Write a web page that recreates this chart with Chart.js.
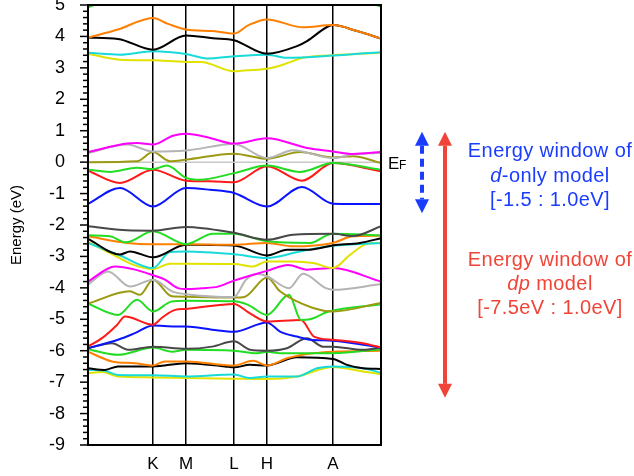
<!DOCTYPE html>
<html>
<head>
<meta charset="utf-8">
<script src="https://cdn.jsdelivr.net/npm/chart.js@4.4.0/dist/chart.umd.min.js"></script>
<style>
  body { margin: 0; background: #fff; }
  canvas { display: block; }
</style>
</head>
<body>
<canvas id="bandChart" width="634" height="476"></canvas>
<script>
// k-path: Γ at 0, then the labelled points, end of path at kEnd
const kTicks = [65, 98, 146, 179, 245];
const kLabels = ['K', 'M', 'L', 'H', 'A'];
const kEnd = 293;
const eMin = -9, eMax = 5;

// energy windows (eV) marked by the arrows
const dOnlyWindow = [-1.5, 1.0];
const dpWindow = [-7.5, 1.0];

// bands, [k, E(eV)]
const fermi = [[0, 0], [293, 0]];

const topGreen = [[0, 4.92], [10, 5.05], [40, 5.4], [250, 5.4], [283, 5.05], [293, 4.95]];
const topOrange = [[0, 3.96], [30, 4.22], [65, 4.59], [80, 4.40], [98, 4.22], [125, 4.17], [146, 4.09], [160, 4.35], [179, 4.54], [215, 4.29], [245, 4.36], [269, 4.17], [293, 3.93]];
const topBlack = [[0, 3.96], [30, 3.92], [65, 3.58], [98, 4.03], [125, 3.94], [146, 3.88], [179, 3.45], [209, 3.69], [219, 3.85], [239, 4.30], [245, 4.36], [269, 4.17], [293, 3.93]];
const topCyan = [[0, 3.48], [32, 3.42], [65, 3.53], [98, 3.44], [119, 3.30], [146, 3.37], [179, 3.42], [199, 3.32], [245, 3.39], [293, 3.50]];
const topYellow = [[0, 3.45], [32, 3.26], [65, 3.24], [98, 3.19], [113, 3.19], [146, 2.89], [158, 2.92], [179, 2.97], [195, 3.10], [215, 3.32], [245, 3.40], [293, 3.48]];

const efMagenta = [[0, 0.32], [39, 0.59], [49, 0.61], [65, 0.56], [85, 0.84], [98, 0.90], [122, 0.77], [146, 0.59], [179, 0.76], [219, 0.45], [245, 0.34], [265, 0.26], [293, 0.32]];
const efGray = [[0, 0.29], [39, 0.56], [65, 0.34], [98, 0.37], [146, 0.58], [179, 0.13], [205, 0.38], [245, 0.13], [265, 0.24], [293, 0.30]];
const efOlive = [[0, 0.00], [49, 0.03], [65, 0.32], [82, 0.03], [98, 0.08], [146, 0.27], [179, 0.11], [212, 0.32], [245, 0.15], [265, 0.19], [293, -0.03]];
const efGreen = [[0, -0.24], [22, -0.31], [49, -0.18], [65, -0.22], [79, -0.11], [98, -0.50], [112, -0.56], [146, -0.35], [179, -0.11], [212, -0.31], [245, -0.03], [293, -0.24]];
const efRed = [[0, -0.27], [32, -0.66], [65, -0.24], [98, -0.59], [122, -0.61], [146, -0.64], [179, -0.13], [214, -0.59], [245, -0.03], [293, -0.29]];
const efBlue = [[0, -1.33], [32, -0.82], [65, -1.41], [98, -0.82], [122, -0.88], [146, -0.98], [179, -1.41], [214, -0.79], [245, -1.32], [293, -1.33]];

const midDarkGray = [[0, -2.04], [39, -2.17], [65, -2.18], [98, -2.06], [146, -2.25], [179, -2.47], [205, -2.31], [245, -2.28], [265, -2.35], [293, -2.04]];
const midGreen = [[0, -2.33], [22, -2.36], [38, -2.55], [65, -2.20], [98, -2.61], [125, -2.28], [146, -2.28], [179, -2.52], [222, -2.57], [240, -2.31], [245, -2.28], [293, -2.33]];
const midOrange = [[0, -2.36], [39, -2.57], [65, -2.61], [98, -2.61], [146, -2.63], [179, -2.57], [205, -2.68], [245, -2.57], [265, -2.36], [293, -2.34]];
const midBlack = [[0, -2.44], [32, -2.94], [42, -2.84], [65, -3.03], [98, -2.63], [146, -2.65], [179, -2.97], [199, -2.79], [219, -2.79], [245, -2.65], [272, -2.57], [293, -2.42]];
const midCyan = [[0, -2.57], [32, -2.97], [65, -3.37], [82, -2.86], [98, -2.84], [146, -2.93], [179, -3.05], [212, -2.84], [245, -2.66], [293, -2.57]];
const midYellow = [[0, -2.54], [25, -2.94], [45, -3.26], [65, -3.40], [82, -3.23], [98, -3.23], [146, -3.24], [165, -3.32], [179, -3.16], [205, -3.16], [225, -3.21], [245, -3.37], [262, -2.95], [279, -2.60], [293, -2.57]];
const midMagenta = [[0, -3.80], [27, -3.32], [47, -3.42], [65, -3.60], [77, -3.74], [90, -4.01], [98, -4.04], [114, -4.01], [130, -3.96], [146, -3.77], [179, -3.46], [200, -3.27], [219, -3.42], [245, -3.37], [293, -3.80]];
const midGray = [[0, -3.90], [20, -3.48], [42, -3.96], [65, -3.74], [84, -4.11], [98, -4.20], [146, -4.29], [158, -3.74], [170, -3.56], [179, -3.63], [201, -4.01], [215, -3.55], [238, -4.01], [245, -4.06], [293, -3.88]];
const midOlive = [[0, -4.50], [42, -4.11], [52, -4.22], [65, -3.74], [84, -4.27], [98, -4.28], [146, -4.31], [157, -4.28], [179, -3.67], [192, -4.11], [225, -4.64], [245, -4.75], [293, -4.48]];
const midGreen2 = [[0, -4.50], [30, -4.86], [49, -4.38], [65, -4.75], [84, -4.43], [98, -4.41], [146, -4.43], [160, -4.54], [179, -4.86], [201, -4.22], [213, -5.02], [222, -5.00], [240, -4.76], [293, -4.52]];
const midRed = [[0, -5.87], [14, -5.60], [29, -5.18], [37, -4.91], [65, -5.17], [74, -4.95], [87, -4.70], [98, -4.67], [146, -4.51], [160, -4.77], [179, -5.07], [213, -5.02], [226, -5.55], [245, -5.65], [275, -5.76], [293, -5.90]];
const midBlue = [[0, -5.92], [30, -5.65], [47, -5.44], [65, -5.20], [87, -5.23], [98, -5.23], [124, -5.33], [146, -5.40], [179, -5.10], [192, -5.39], [209, -5.55], [222, -5.65], [245, -5.68], [293, -5.90]];

const lowDarkGray = [[0, -5.92], [24, -5.76], [40, -5.97], [65, -5.87], [98, -5.94], [124, -5.87], [146, -5.70], [162, -5.97], [179, -6.00], [199, -5.92], [219, -5.60], [235, -5.87], [245, -5.87], [275, -5.97], [293, -5.90]];
const lowGreen = [[0, -5.95], [30, -6.13], [65, -5.90], [84, -6.03], [98, -5.97], [146, -6.00], [169, -6.08], [179, -6.03], [192, -6.08], [245, -6.08], [293, -5.95]];
const lowOrange = [[0, -6.03], [24, -6.34], [47, -6.40], [65, -6.47], [77, -6.34], [98, -6.34], [146, -6.47], [165, -6.32], [179, -6.47], [199, -6.24], [225, -6.08], [245, -6.03], [293, -6.00]];
const lowBlack = [[0, -6.56], [17, -6.61], [30, -6.50], [65, -6.50], [98, -6.40], [137, -6.50], [146, -6.53], [162, -6.45], [179, -6.47], [209, -6.21], [245, -6.26], [259, -6.45], [275, -6.56], [293, -6.58]];
const lowCyan = [[0, -6.61], [17, -6.64], [30, -6.77], [65, -6.78], [98, -6.82], [146, -6.76], [162, -6.87], [179, -6.82], [209, -6.82], [229, -6.56], [245, -6.50], [275, -6.56], [293, -6.70]];
const lowYellow = [[0, -6.71], [14, -6.68], [30, -6.82], [65, -6.85], [98, -6.87], [146, -6.89], [179, -6.90], [209, -6.82], [245, -6.52], [275, -6.66], [293, -6.75]];

// first entry is drawn on top
const bands = [
    [topOrange, '#ff8000'], [topBlack, '#000000'], [topCyan, '#19dada'], [topYellow, '#e2e200'], [topGreen, '#22dd22'],
    [efMagenta, '#ff00ff'], [efGray, '#b4b4b4'], [efOlive, '#9c9a12'], [efGreen, '#22dd22'], [efRed, '#ff1a1a'], [efBlue, '#0a14ff'],
    [midDarkGray, '#484848'], [midGreen, '#22dd22'], [midOrange, '#ff8000'], [midBlack, '#000000'], [midCyan, '#19dada'],
    [midYellow, '#e2e200'], [midMagenta, '#ff00ff'], [midGray, '#b4b4b4'], [midOlive, '#9c9a12'], [midGreen2, '#22dd22'],
    [midRed, '#ff1a1a'], [midBlue, '#0a14ff'],
    [lowDarkGray, '#484848'], [lowGreen, '#22dd22'], [lowOrange, '#ff8000'], [lowBlack, '#000000'], [lowCyan, '#19dada'], [lowYellow, '#e2e200'],
];

const FONT = "'Liberation Sans', Arial, sans-serif";
const BLUE = '#1a3cff';
const RED = '#f04438';

function drawArrow(ctx, x, yTop, yBot, color, dashed) {
    const head = 14, half = 7;
    ctx.save();
    ctx.strokeStyle = color;
    ctx.fillStyle = color;
    ctx.lineWidth = 4;
    if (dashed) ctx.setLineDash([8, 5]);
    ctx.beginPath();
    ctx.moveTo(x, yTop + head);
    ctx.lineTo(x, yBot - head);
    ctx.stroke();
    ctx.setLineDash([]);
    ctx.beginPath();
    ctx.moveTo(x, yTop); ctx.lineTo(x - half, yTop + head); ctx.lineTo(x + half, yTop + head);
    ctx.closePath(); ctx.fill();
    ctx.beginPath();
    ctx.moveTo(x, yBot); ctx.lineTo(x - half, yBot - head); ctx.lineTo(x + half, yBot - head);
    ctx.closePath(); ctx.fill();
    ctx.restore();
}

// line of text with one italic piece, centred on cx
function mixedText(ctx, parts, cx, y, size, color) {
    ctx.fillStyle = color;
    ctx.textBaseline = 'alphabetic';
    ctx.textAlign = 'left';
    ctx.letterSpacing = '0.4px';
    let total = 0;
    parts.forEach(p => {
        ctx.font = (p.italic ? 'italic ' : '') + size + 'px ' + FONT;
        p.w = ctx.measureText(p.text).width;
        total += p.w;
    });
    let x = cx - total / 2;
    parts.forEach(p => {
        ctx.font = (p.italic ? 'italic ' : '') + size + 'px ' + FONT;
        ctx.fillText(p.text, x, y);
        x += p.w;
    });
    ctx.letterSpacing = '0px';
}

const decorPlugin = {
    id: 'decor',
    afterDraw(chart) {
        const { ctx, chartArea: a } = chart;
        const y = chart.scales.y;
        ctx.save();

        // frame
        ctx.strokeStyle = '#000';
        ctx.lineWidth = 2;
        ctx.strokeRect(a.left, a.top, a.right - a.left, a.bottom - a.top);

        // major / minor ticks on the energy axis
        ctx.lineWidth = 1.5;
        for (let i = 0; i <= (eMax - eMin) * 5; i++) {
            const py = y.getPixelForValue(eMin + i * 0.2);
            const len = i % 5 === 0 ? 8 : 5;
            ctx.beginPath();
            ctx.moveTo(a.left - len, py);
            ctx.lineTo(a.left, py);
            ctx.stroke();
        }

        // E_F label
        const y0 = y.getPixelForValue(0);
        ctx.fillStyle = '#000';
        ctx.textAlign = 'left';
        ctx.textBaseline = 'alphabetic';
        ctx.font = '17px ' + FONT;
        ctx.fillText('E', a.right + 7, y0 + 7);
        ctx.font = '12px ' + FONT;
        ctx.fillText('F', a.right + 18, y0 + 7);

        // energy window arrows
        drawArrow(ctx, 422, y.getPixelForValue(dOnlyWindow[1]) + 1, y.getPixelForValue(dOnlyWindow[0]) + 4, BLUE, true);
        drawArrow(ctx, 445, y.getPixelForValue(dpWindow[1]) + 1, y.getPixelForValue(dpWindow[0]), RED, false);

        // captions
        const cx = 550, fs = 20;
        mixedText(ctx, [{ text: 'Energy window of' }], cx, 157, fs, BLUE);
        mixedText(ctx, [{ text: 'd', italic: true }, { text: '-only model' }], cx, 182, fs, BLUE);
        mixedText(ctx, [{ text: '[-1.5 : 1.0eV]' }], cx, 206, fs, BLUE);
        mixedText(ctx, [{ text: 'Energy window of' }], cx, 266, fs, RED);
        mixedText(ctx, [{ text: 'dp', italic: true }, { text: ' model' }], cx, 290, fs, RED);
        mixedText(ctx, [{ text: '[-7.5eV : 1.0eV]' }], cx, 314, fs, RED);

        ctx.restore();
    }
};

const datasets = bands.map(([pts, color]) => ({
    data: pts.map(([k, e]) => ({ x: k, y: e })),
    borderColor: color,
    borderWidth: 2,
    pointRadius: 0,
    cubicInterpolationMode: 'monotone',
    fill: false
}));
datasets.push({
    data: fermi.map(([k, e]) => ({ x: k, y: e })),
    borderColor: '#c8c8c8',
    borderWidth: 1.5,
    pointRadius: 0,
    fill: false
});

new Chart(document.getElementById('bandChart').getContext('2d'), {
    type: 'line',
    data: { datasets: datasets },
    options: {
        responsive: false,
        devicePixelRatio: 1,
        animation: false,
        layout: { padding: { top: 5, right: 253, left: 0, bottom: 0 } },
        plugins: {
            legend: { display: false },
            tooltip: { enabled: false }
        },
        scales: {
            x: {
                type: 'linear',
                min: 0,
                max: kEnd,
                afterBuildTicks: s => { s.ticks = kTicks.map(v => ({ value: v })); },
                ticks: {
                    callback: (v, i) => kLabels[i],
                    font: { family: FONT, size: 17 },
                    color: '#000',
                    padding: 9,
                    maxRotation: 0,
                    autoSkip: false
                },
                grid: { color: '#000', lineWidth: 1.5, drawTicks: false },
                border: { display: false },
                afterFit: s => { s.height = 31; s.paddingLeft = 0; s.paddingRight = 0; }
            },
            y: {
                min: eMin,
                max: eMax,
                ticks: {
                    stepSize: 1,
                    font: { family: FONT, size: 18 },
                    color: '#000',
                    padding: 0
                },
                // invisible tick marks only push the labels left; real ticks are drawn by the plugin
                grid: { display: true, drawOnChartArea: false, drawTicks: true, tickLength: 23, tickColor: 'rgba(0,0,0,0)' },
                border: { display: false },
                title: {
                    display: true,
                    text: 'Energy (eV)',
                    font: { family: FONT, size: 15 },
                    color: '#000',
                    padding: { top: 8, bottom: 0 }
                },
                afterFit: s => { s.width = 88; s.paddingTop = 0; s.paddingBottom = 0; }
            }
        }
    },
    plugins: [decorPlugin]
});
</script>
</body>
</html>
